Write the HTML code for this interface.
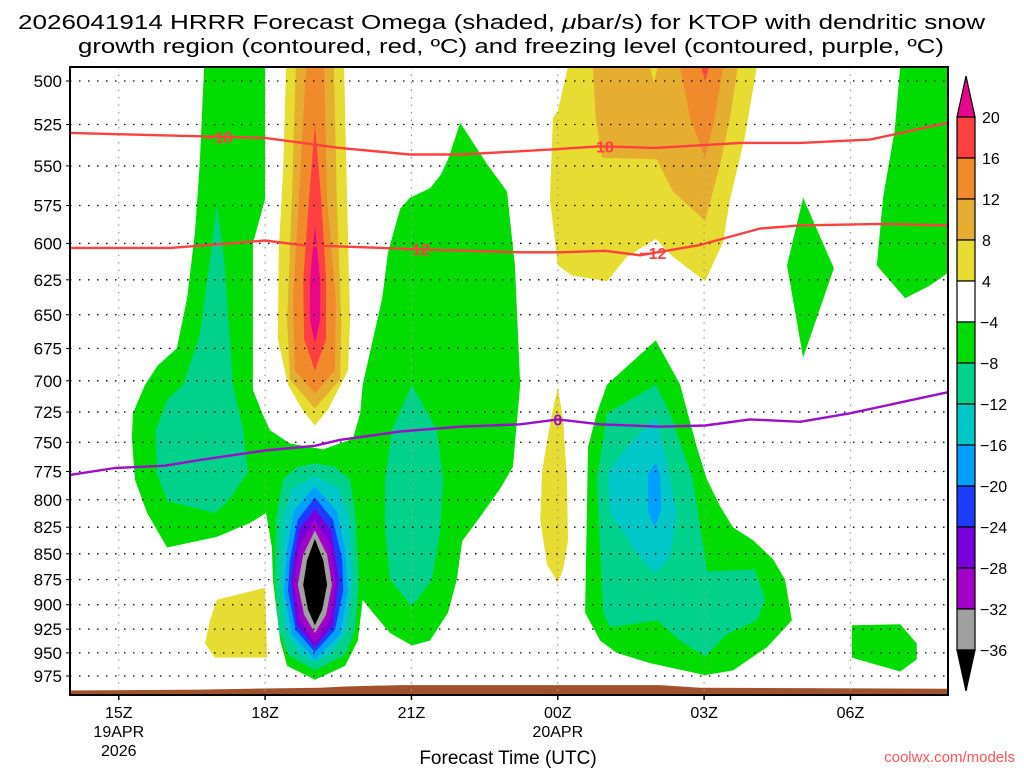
<!DOCTYPE html>
<html><head><meta charset="utf-8">
<style>
html,body{margin:0;padding:0;background:#fff;}
svg{display:block;font-family:"Liberation Sans",sans-serif;}
</style></head>
<body>
<svg id="chart" width="1024" height="768" viewBox="0 0 1024 768" xmlns="http://www.w3.org/2000/svg">
<text x="18" y="29" font-size="20" textLength="967" lengthAdjust="spacingAndGlyphs">2026041914 HRRR Forecast Omega (shaded, <tspan font-style="italic">μ</tspan>bar/s) for KTOP with dendritic snow</text>
<text x="78" y="53" font-size="20" textLength="866" lengthAdjust="spacingAndGlyphs">growth region (contoured, red, ºC) and freezing level (contoured, purple, ºC)</text>
<g id="plot"></g>
<text x="508" y="764" font-size="19" text-anchor="middle">Forecast Time (UTC)</text>
<text x="1015" y="762" font-size="15" fill="#ff5555" text-anchor="end">coolwx.com/models</text>
</svg>
<script>
// ---- axis domain ----
const hourMin = 14, hourMax = 32;
const xTickHours = [15, 18, 21, 24, 27, 30];
const xTickLabels = ["15Z", "18Z", "21Z", "00Z", "03Z", "06Z"];
const xDateLabels = [["19APR", "2026"], [], [], ["20APR"], [], []];
const pressureLevels = [500,525,550,575,600,625,650,675,700,725,750,775,800,825,850,875,900,925,950,975];
const colorbarLabels = ["20","16","12","8","4","−4","−8","−12","−16","−20","−24","−28","−32","−36"];
const colorbarColors = ["#ff4040","#f08a2a","#e6ae30","#e6dc32","#ffffff","#00dc00","#00d28c","#00c8c8","#00a0ff","#1e3cff","#7800dc","#a000c8","#a0a0a0"];

// ---- shaded omega regions: [hour, hPa] vertices ----
const greenMainHours = [16.75,18.0,18.0,17.75,17.75,17.94,18.1,18.51,19.19,19.8,19.95,20.0,20.4,20.52,20.77,20.97,21.38,21.59,21.75,22.0,22.55,22.96,23.12,23.23,23.08,22.82,22.4,22.04,21.93,21.75,21.38,21.01,20.56,20.21,20.0,19.9,19.64,19.02,18.45,18.31,18.16,18.14,18.02,17.69,17.01,15.99,15.58,15.33,15.27,15.29,15.54,15.8,16.19,16.4,16.56,16.66];
const greenMainPres  = [492,492,571,600,707,726,740,751,756,747,726,703,638,606,577,570,564,556,546,524,549,566,615,703,771,790,816,838,875,908,937,942,929,908,895,937,964,979,964,937,875,844,812,821,834,844,812,782,747,726,703,688,675,638,593,549];
const tealLeftHours = [17.01,17.16,17.34,17.55,17.65,17.22,16.97,15.99,15.78,15.76,15.99,16.32,16.66,16.87];
const tealLeftPres  = [574,611,703,740,776,802,812,801,776,740,715,703,665,611];
const yellowColHours = [18.43,19.62,19.68,19.74,19.7,19.29,19.02,18.76,18.47,18.26,18.28,18.37];
const yellowColPres  = [492,492,571,654,692,723,736,723,703,668,604,552];
const ltOrangeColHours = [18.63,19.41,19.47,19.56,19.54,19.02,18.51,18.45,18.55];
const ltOrangeColPres  = [492,492,571,654,699,722,699,654,571];
const orangeColHours = [18.84,19.21,19.27,19.45,19.43,19.02,18.61,18.57,18.69];
const orangeColPres  = [492,492,571,639,692,710,692,639,571];
const redColHours = [19.02,19.15,19.25,19.25,19.02,18.8,18.78,18.9];
const redColPres  = [525,571,625,668,692,668,625,571];
const magentaColHours = [19.02,19.13,19.13,19.02,18.92,18.92];
const magentaColPres  = [588,625,654,671,654,625];
const blobTealHours = [19.02,19.43,19.74,19.86,19.92,19.84,19.64,19.02,18.47,18.28,18.2,18.22,18.37,18.65];
const blobTealPres  = [768,771,782,818,875,926,952,969,952,926,875,818,782,771];
const blobCyanHours = [19.02,19.53,19.72,19.8,19.68,19.33,19.02,18.72,18.41,18.31,18.37,18.55];
const blobCyanPres  = [779,790,818,875,926,952,960,952,926,875,818,790];
const blobLtBlueHours = [19.02,19.47,19.64,19.7,19.54,19.02,18.55,18.39,18.45,18.59];
const blobLtBluePres  = [788,810,846,886,931,957,931,886,846,810];
const blobBlueHours = [19.02,19.39,19.58,19.6,19.43,19.02,18.63,18.47,18.51,18.67];
const blobBluePres  = [798,818,856,886,926,949,926,886,856,818];
const blobPurpleHours = [19.02,19.35,19.51,19.39,19.02,18.65,18.53,18.69];
const blobPurplePres  = [808,828,875,921,944,921,875,828];
const blobVioletHours = [19.02,19.33,19.45,19.33,19.02,18.72,18.59,18.72];
const blobVioletPres  = [818,841,880,916,940,916,880,841];
const blobGrayHours = [19.02,19.27,19.37,19.25,19.02,18.8,18.67,18.78];
const blobGrayPres  = [828,851,880,910,929,910,880,851];
const blobBlackHours = [19.02,19.19,19.27,19.17,19.02,18.88,18.78,18.86];
const blobBlackPres  = [836,856,880,905,921,905,880,856];
const yellowLowHours = [17.01,18.0,18.04,16.97,16.77,16.87];
const yellowLowPres  = [895,883,955,955,940,916];
const tealMidHours = [21.01,21.52,21.65,21.59,21.42,21.01,20.56,20.46,20.46,20.6];
const tealMidPres  = [703,740,782,828,875,902,875,828,782,740];
const yellowTopHours = [24.21,28.08,27.84,27.53,27.39,27.02,26.36,26.01,25.42,25.01,24.29,24.0,23.84,23.9,24.0];
const yellowTopPres  = [492,492,532,571,599,626,609,597,609,626,622,615,571,521,517];
const ltOrangeTopHours = [24.72,27.69,27.53,27.33,27.02,26.36,26.03,24.91,24.78];
const ltOrangeTopPres  = [492,492,521,549,585,566,546,545,522];
const notchHours = [25.89,26.05,25.97];
const notchPres  = [492,492,501];
const orangeTopHours = [26.51,27.39,27.22,27.02,26.71];
const orangeTopPres  = [492,492,521,545,521];
const redTopHours = [26.94,27.1,27.02];
const redTopPres  = [492,492,500];
const greenDiamondHours = [29.03,29.66,29.03,28.7];
const greenDiamondPres  = [570,617,682,615];
const greenRightHours = [31.02,32.0,32.0,31.63,31.12,30.54,30.67,30.91];
const greenRightPres  = [492,492,620,629,638,615,570,528];
const greenSEHours = [26.01,26.51,26.57,26.85,27.06,27.33,27.59,28.0,28.41,28.66,28.8,28.29,27.59,27.02,25.89,25.21,24.87,24.56,24.62,24.8,25.01];
const greenSEPres  = [669,703,712,754,782,806,825,837,855,875,916,944,969,974,961,950,937,908,754,726,703];
const tealSEHours = [26.01,26.3,26.77,27.06,28.04,28.25,28.08,27.47,27.02,26.51,26.04,25.07,24.93,24.8,25.01];
const tealSEPres  = [703,726,782,867,865,895,916,930,954,937,916,923,908,782,726];
const cyanSEHours = [26.01,26.24,26.44,26.3,25.99,25.62,25.07,25.03,25.42];
const cyanSEPres  = [729,768,812,853,869,849,812,776,754];
const blueSEHours = [26.01,26.1,26.12,25.99,25.85,25.85];
const blueSEPres  = [767,778,810,825,810,778];
const yellowSliverHours = [24.0,24.11,24.19,24.21,24.11,24.0,23.78,23.64,23.68,23.86];
const yellowSliverPres  = [705,731,782,837,865,878,860,818,774,731];
const greenSmallHours = [30.03,31.02,31.36,31.36,31.02,30.03];
const greenSmallPres  = [921,920,940,957,970,955];
const groundHours = [14,16.66,17.69,19.13,19.64,20.77,26.1,26.92,32];
const groundPres  = [991,990,989,988,986.5,985,985,988,989];

// ---- temperature contour lines ----
const minus18Hours = [14,16.67,18.0,19.53,20.97,22.0,23.84,24.87,25.99,27.74,28.97,30.4,32];
const minus18Pres  = [530,532,533,539,543,543,540,538,539,536,536,534,524];
const minus12Hours = [14,16.05,17.28,18.0,18.72,19.53,21.18,23.23,24.05,24.97,25.69,26.92,28.15,28.97,30.6,32];
const minus12Pres  = [603,603,600,598,601,602,604,606,606,605,608,601,590,588,587,588];
const zeroHours = [14,14.92,15.95,16.67,18.0,19.02,19.53,20.77,22.0,23.23,24.0,24.87,26.1,27.02,27.94,28.97,29.99,32];
const zeroPres  = [778,772,770,765,757,753,748,741,737,735,731,735,737,736,731,733,726,709];
const minus18LabelHours = [17.05, 24.87];
const minus12LabelHours = [21.1, 25.95];
const zeroLabelHours = [24.0];

const X0 = 70, X1 = 948, Y0 = 67, Y1 = 695;
function xS(h){ return X0 + (h - hourMin) / (hourMax - hourMin) * (X1 - X0); }
function yS(p){ return 81 + 891 * Math.log(p / 500); }
const NS = "http://www.w3.org/2000/svg";
const plot = document.getElementById("plot");
function mk(tag, attrs, parent){
  const e = document.createElementNS(NS, tag);
  for (const k in attrs) e.setAttribute(k, attrs[k]);
  (parent || plot).appendChild(e);
  return e;
}
function pts(hs, ps){ return hs.map((h,i)=> xS(h).toFixed(1)+","+yS(ps[i]).toFixed(1)).join(" "); }
function interp(hs, ps, h){
  for (let i=0;i<hs.length-1;i++){ if (h>=hs[i] && h<=hs[i+1]){ const f=(h-hs[i])/(hs[i+1]-hs[i]); return ps[i]+f*(ps[i+1]-ps[i]); } }
  return ps[ps.length-1];
}

const defs = mk("defs", {});
const cp = mk("clipPath", {id:"clip"}, defs);
mk("rect", {x:X0, y:Y0, width:X1-X0, height:Y1-Y0}, cp);
const shade = mk("g", {"clip-path":"url(#clip)"});



function region(name, hs, ps, color){
  const e = mk("polygon", {points: pts(hs, ps), fill: color}, shade);
  
  
}
const G="#00dc00", TE="#00d28c", CY="#00c8c8", LB="#00a0ff", DB="#1e3cff", PU="#7800dc", VI="#a000c8", GR="#a0a0a0", YE="#e6dc32", LO="#e6ae30", OR="#f08a2a", RE="#ff4040", MA="#e8068a";
region("green-main-region", greenMainHours, greenMainPres, G);
region("teal-left-region", tealLeftHours, tealLeftPres, TE);
region("yellow-column", yellowColHours, yellowColPres, YE);
region("light-orange-column", ltOrangeColHours, ltOrangeColPres, LO);
region("orange-column", orangeColHours, orangeColPres, OR);
region("red-column", redColHours, redColPres, RE);
region("magenta-column", magentaColHours, magentaColPres, MA);
region("blob-teal", blobTealHours, blobTealPres, TE);
region("blob-cyan", blobCyanHours, blobCyanPres, CY);
region("blob-light-blue", blobLtBlueHours, blobLtBluePres, LB);
region("blob-blue", blobBlueHours, blobBluePres, DB);
region("blob-purple", blobPurpleHours, blobPurplePres, PU);
region("blob-violet", blobVioletHours, blobVioletPres, VI);
region("blob-gray", blobGrayHours, blobGrayPres, GR);
region("blob-black", blobBlackHours, blobBlackPres, "#000000");
region("yellow-low-region", yellowLowHours, yellowLowPres, YE);
region("teal-mid-region", tealMidHours, tealMidPres, TE);
region("yellow-top-region", yellowTopHours, yellowTopPres, YE);
region("light-orange-top-region", ltOrangeTopHours, ltOrangeTopPres, LO);
region("yellow-notch", notchHours, notchPres, YE);
region("orange-top-region", orangeTopHours, orangeTopPres, OR);
region("red-top-tip", redTopHours, redTopPres, RE);
region("green-diamond", greenDiamondHours, greenDiamondPres, G);
region("green-right-region", greenRightHours, greenRightPres, G);
region("green-se-region", greenSEHours, greenSEPres, G);
region("teal-se-region", tealSEHours, tealSEPres, TE);
region("cyan-se-region", cyanSEHours, cyanSEPres, CY);
region("blue-se-region", blueSEHours, blueSEPres, LB);
region("yellow-sliver", yellowSliverHours, yellowSliverPres, YE);
region("green-small-region", greenSmallHours, greenSmallPres, G);
// ground
const gp = pts(groundHours, groundPres) + " " + X1 + "," + Y1 + " " + X0 + "," + Y1;
const ground = mk("polygon", {points: gp, fill:"#a0522d"}, shade);



// gridlines
pressureLevels.forEach(p=>{
  const l = mk("line", {x1:X0, x2:X1, y1:yS(p), y2:yS(p), stroke:"#000", "stroke-width":1.3, "stroke-dasharray":"1.5,7.5"});
  
  
});
xTickHours.forEach(h=>{
  const l = mk("line", {x1:xS(h), x2:xS(h), y1:Y0, y2:Y1, stroke:"#999", "stroke-width":1.2, "stroke-dasharray":"1.5,6"});
  
  
});

// contour lines
function contour(name, hs, ps, color){
  const e = mk("polyline", {points: pts(hs, ps), fill:"none", stroke: color, "stroke-width":2.4, "stroke-linejoin":"round"});
  
  
}
contour("minus18-isotherm", minus18Hours, minus18Pres, "#ff4040");
contour("minus12-isotherm", minus12Hours, minus12Pres, "#ff4040");
contour("freezing-level", zeroHours, zeroPres, "#9a10c8");
function clabel(name, txt, h, hs, ps, color){
  const x = xS(h), y = yS(interp(hs, ps, h));
  const t = mk("text", {x:x, y:y+6, "font-size":16, "font-weight":"bold", fill:color, "text-anchor":"middle"});
  t.textContent = txt;
  
  
}
minus18LabelHours.forEach(h=>clabel("minus18-label", "−18", h, minus18Hours, minus18Pres, "#ff4040"));
minus12LabelHours.forEach(h=>clabel("minus12-label", "−12", h, minus12Hours, minus12Pres, "#ff4040"));
zeroLabelHours.forEach(h=>clabel("zero-label", "0", h, zeroHours, zeroPres, "#9a10c8"));

// frame
const frame = mk("rect", {x:X0, y:Y0, width:X1-X0, height:Y1-Y0, fill:"none", stroke:"#000", "stroke-width":2});



// y axis labels
pressureLevels.forEach(p=>{
  const t = mk("text", {x:62, y:yS(p)+6, "font-size":17, "text-anchor":"end"});
  t.textContent = String(p);
  
  
  const k = mk("line", {x1:X0-4, x2:X0, y1:yS(p), y2:yS(p), stroke:"#000", "stroke-width":1});
  
  
});
// x axis labels
xTickHours.forEach((h,i)=>{
  const k = mk("line", {x1:xS(h), x2:xS(h), y1:Y1, y2:Y1+5, stroke:"#000", "stroke-width":1.5});
  
  
  const t = mk("text", {x:xS(h), y:718, "font-size":16, "text-anchor":"middle"});
  t.textContent = xTickLabels[i];
  
  
  xDateLabels[i].forEach((s,j)=>{
    const d = mk("text", {x:xS(h), y:737+j*19, "font-size":16, "text-anchor":"middle"});
    d.textContent = s;
    
    
  });
});

// colorbar
const cb = mk("g", {});


const CBX = 957, CBW = 18, CBTOP = 117, CBSTEP = 41;
const topTri = mk("polygon", {points:`${CBX},${CBTOP} ${CBX+CBW},${CBTOP} ${CBX+CBW/2},${CBTOP-41}`, fill:MA, stroke:"#000", "stroke-width":1.2}, cb);


colorbarColors.forEach((c,i)=>{
  const r = mk("rect", {x:CBX, y:CBTOP+i*CBSTEP, width:CBW, height:CBSTEP, fill:c, stroke:"#000", "stroke-width":1.2}, cb);
  
  
});
const botY = CBTOP + colorbarColors.length*CBSTEP;
const botTri = mk("polygon", {points:`${CBX},${botY} ${CBX+CBW},${botY} ${CBX+CBW/2},${botY+41}`, fill:"#000", stroke:"#000", "stroke-width":1.2}, cb);


colorbarLabels.forEach((s,i)=>{
  const t = mk("text", {x:s.startsWith("−")?980:982, y:CBTOP+i*CBSTEP+6, "font-size":16}, cb);
  t.textContent = s;
  
  
});
</script>
</body></html>
